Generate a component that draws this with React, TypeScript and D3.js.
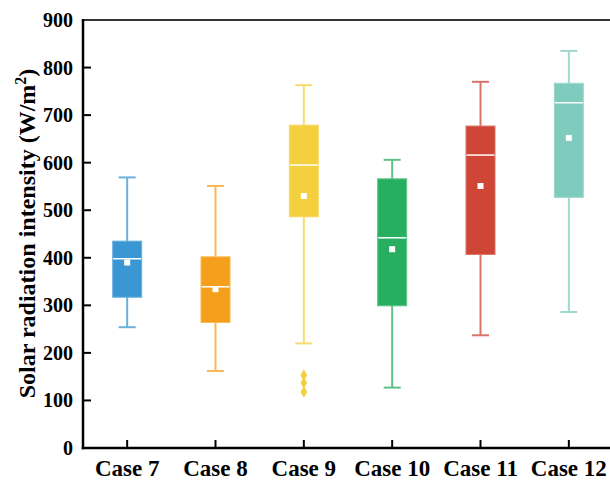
import React from "react";
import * as d3 from "d3";

const categories = ["Case 7", "Case 8", "Case 9", "Case 10", "Case 11", "Case 12"];
const whiskerLow = [254, 162, 220, 127, 237, 286];
const q1 = [317, 264, 486, 299, 407, 527];
const median = [398, 339, 595, 442, 616, 726];
const q3 = [435, 402, 679, 566, 677, 767];
const whiskerHigh = [569, 551, 763, 606, 770, 835];
const means = [390, 334, 530, 418, 551, 652];
const outliers: number[][] = [[], [], [153, 137, 118], [], [], []];
const colors = ["#3a97d4", "#f5a01c", "#f4d03f", "#27ae60", "#cf4536", "#7fcbbd"];
const yTicks = [0, 100, 200, 300, 400, 500, 600, 700, 800, 900];

const W = 610, H = 482;
const left = 83, right = 613, top = 20, bottom = 448;
const font = "'Liberation Serif', 'Times New Roman', serif";

export default function App() {
  const x = d3.scaleBand<string>().domain(categories).range([left, right]).paddingInner(0).paddingOuter(0);
  const y = d3.scaleLinear().domain([0, 900]).range([bottom, top]);
  const bw = 29;
  const capW = 17;
  const diamond = d3.symbol().type(d3.symbolDiamond).size(40);

  return (
    <svg width={W} height={H} style={{ position: "absolute", left: 0, top: 0, background: "#fff" }}>
      {categories.map((c, i) => {
        const cx = (x(c) as number) + x.bandwidth() / 2;
        const col = colors[i];
        const light = d3.interpolateRgb(col, "#ffffff")(0.25);
        return (
          <g key={c}>
            <line x1={cx} x2={cx} y1={y(whiskerHigh[i])} y2={y(q3[i])} stroke={light} strokeWidth={2} />
            <line x1={cx} x2={cx} y1={y(q1[i])} y2={y(whiskerLow[i])} stroke={light} strokeWidth={2} />
            <line x1={cx - capW / 2} x2={cx + capW / 2} y1={y(whiskerHigh[i])} y2={y(whiskerHigh[i])} stroke={light} strokeWidth={2} />
            <line x1={cx - capW / 2} x2={cx + capW / 2} y1={y(whiskerLow[i])} y2={y(whiskerLow[i])} stroke={light} strokeWidth={2} />
            <rect x={cx - bw / 2} y={y(q3[i])} width={bw} height={y(q1[i]) - y(q3[i])} fill={col} stroke={light} strokeWidth={1} />
            <line x1={cx - bw / 2 + 0.5} x2={cx + bw / 2 - 0.5} y1={y(median[i])} y2={y(median[i])} stroke="#fff" strokeWidth={1.5} />
            <rect x={cx - 3} y={y(means[i]) - 3} width={6} height={6} fill="#fff" />
            {outliers[i].map((o, j) => (
              <path key={j} d={diamond() as string} transform={`translate(${cx},${y(o)})`} fill={col} />
            ))}
          </g>
        );
      })}
      {/* frame */}
      <line x1={left} x2={right} y1={top} y2={top} stroke="#333" strokeWidth={2} />
      <line x1={left} x2={left} y1={top - 1} y2={bottom + 1.25} stroke="#000" strokeWidth={2.5} />
      <line x1={left - 1.25} x2={right} y1={bottom} y2={bottom} stroke="#000" strokeWidth={2.5} />
      {yTicks.map((t) => (
        <g key={t}>
          {t !== 0 && t !== 900 && (
            <line x1={left} x2={left + 8} y1={y(t)} y2={y(t)} stroke="#000" strokeWidth={2} />
          )}
          <text x={73} y={y(t)} dy="0.35em" textAnchor="end" fontFamily={font} fontWeight="bold" fontSize={20} fill="#000">
            {t}
          </text>
        </g>
      ))}
      {categories.map((c) => {
        const cx = (x(c) as number) + x.bandwidth() / 2;
        return (
          <g key={c}>
            <line x1={cx} x2={cx} y1={bottom} y2={bottom - 8} stroke="#000" strokeWidth={2} />
            <text x={cx} y={476} textAnchor="middle" fontFamily={font} fontWeight="bold" fontSize={23} fill="#000">
              {c}
            </text>
          </g>
        );
      })}
      <text
        transform={`translate(35,233.5) rotate(-90)`}
        textAnchor="middle"
        fontFamily={font}
        fontWeight="bold"
        fontSize={24}
        fill="#000"
      >
        Solar radiation intensity (W/m<tspan dy="-9" fontSize={16}>2</tspan><tspan dy="9">)</tspan>
      </text>
    </svg>
  );
}
